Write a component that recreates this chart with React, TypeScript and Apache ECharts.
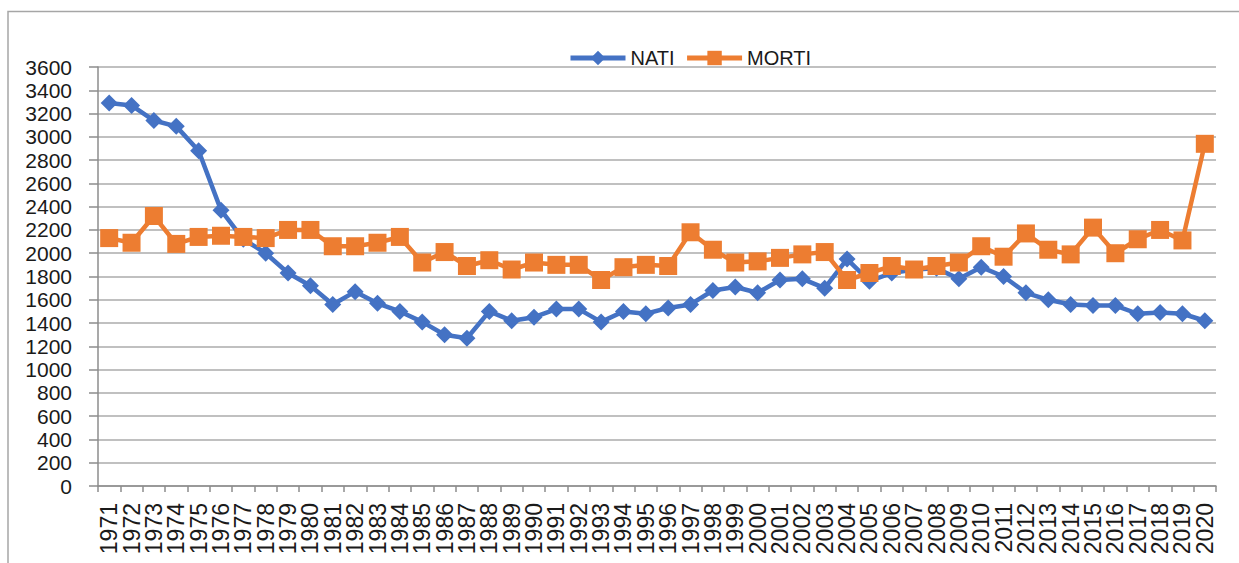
import React, { useEffect, useRef } from "react";
import * as echarts from "echarts";

const years = [
  "1971", "1972", "1973", "1974", "1975", "1976", "1977", "1978", "1979", "1980",
  "1981", "1982", "1983", "1984", "1985", "1986", "1987", "1988", "1989", "1990",
  "1991", "1992", "1993", "1994", "1995", "1996", "1997", "1998", "1999", "2000",
  "2001", "2002", "2003", "2004", "2005", "2006", "2007", "2008", "2009", "2010",
  "2011", "2012", "2013", "2014", "2015", "2016", "2017", "2018", "2019", "2020",
];

const nati = [
  3290, 3270, 3140, 3090, 2880, 2370, 2120, 2000, 1830, 1720,
  1560, 1670, 1570, 1500, 1410, 1300, 1270, 1500, 1420, 1450,
  1520, 1520, 1410, 1500, 1480, 1530, 1560, 1680, 1710, 1660,
  1770, 1780, 1700, 1950, 1760, 1830, 1860, 1870, 1780, 1880,
  1800, 1660, 1600, 1560, 1550, 1550, 1480, 1490, 1480, 1420,
];

const morti = [
  2130, 2090, 2320, 2080, 2140, 2150, 2140, 2130, 2200, 2200,
  2060, 2060, 2090, 2140, 1920, 2010, 1890, 1940, 1860, 1920,
  1900, 1900, 1770, 1880, 1900, 1890, 2180, 2030, 1920, 1930,
  1960, 1990, 2010, 1770, 1830, 1890, 1860, 1890, 1920, 2060,
  1970, 2170, 2030, 1990, 2220, 2000, 2120, 2200, 2110, 2940,
];

const FONT = "'Liberation Sans', Arial, sans-serif";

export default function App() {
  const ref = useRef<HTMLDivElement>(null);

  useEffect(() => {
    document.body.style.margin = "0";
    if (!ref.current) return;
    const chart = echarts.init(ref.current, null, { renderer: "svg" });
    chart.setOption({
      animation: false,
      backgroundColor: "#ffffff",
      graphic: [
        {
          type: "rect",
          shape: { x: 8, y: 11.5, width: 1400, height: 700 },
          style: { fill: "none", stroke: "#a6a6a6", lineWidth: 1.5 },
          silent: true,
          z: -1,
        },
      ],
      legend: {
        left: 563,
        top: 43,
        itemWidth: 55,
        itemHeight: 18,
        itemGap: 10,
        lineStyle: { width: 5 },
        textStyle: { fontFamily: FONT, fontSize: 20, color: "#1a1a1a" },
        data: ["NATI", "MORTI"],
      },
      grid: { left: 98, right: 23, top: 67, bottom: 77, containLabel: false },
      xAxis: {
        type: "category",
        data: years,
        boundaryGap: true,
        axisLine: { lineStyle: { color: "#8c8c8c", width: 1.5 } },
        axisTick: { show: true, interval: 0, length: 6, lineStyle: { color: "#8c8c8c", width: 1.5 } },
        axisLabel: {
          interval: 0,
          rotate: 90,
          margin: 17,
          fontFamily: FONT,
          fontSize: 23,
          color: "#1a1a1a",
        },
        splitLine: { show: false },
      },
      yAxis: {
        type: "value",
        min: 0,
        max: 3600,
        interval: 200,
        axisLine: { show: true, lineStyle: { color: "#8c8c8c", width: 1.5 } },
        axisTick: { show: true, length: 9, lineStyle: { color: "#8c8c8c", width: 1.5 } },
        axisLabel: {
          margin: 26,
          fontFamily: FONT,
          fontSize: 21,
          color: "#1a1a1a",
          formatter: (v: number) => String(v),
        },
        splitLine: { show: true, lineStyle: { color: "#ababab", width: 1.5 } },
      },
      series: [
        {
          name: "NATI",
          type: "line",
          data: nati,
          symbol: "diamond",
          symbolSize: 17,
          color: "#4472C4",
          lineStyle: { color: "#4472C4", width: 4.5 },
          itemStyle: { color: "#4472C4" },
        },
        {
          name: "MORTI",
          type: "line",
          data: morti,
          symbol: "rect",
          symbolSize: 18,
          color: "#ED7D31",
          lineStyle: { color: "#ED7D31", width: 4.5 },
          itemStyle: { color: "#ED7D31" },
        },
      ],
    });
    return () => chart.dispose();
  }, []);

  return <div ref={ref} style={{ width: 1239, height: 563 }} />;
}
